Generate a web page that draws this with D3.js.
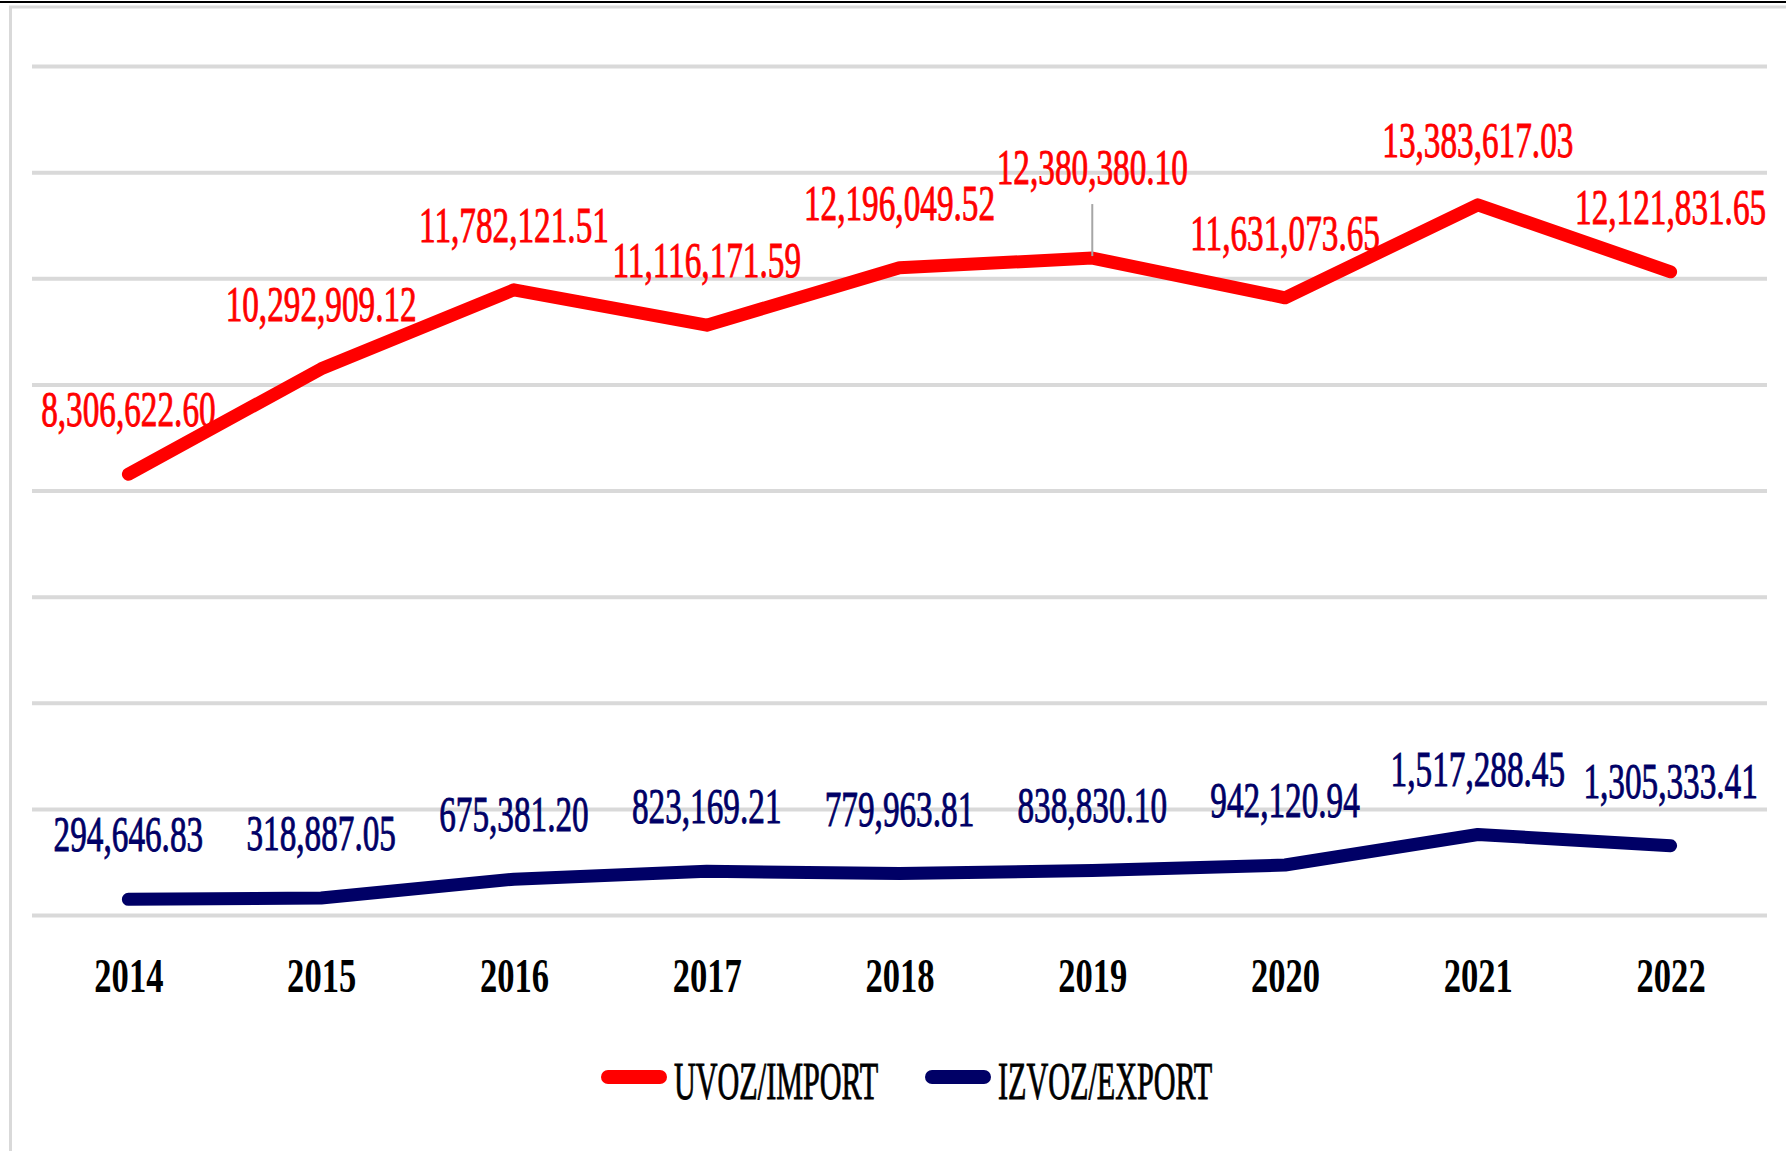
<!DOCTYPE html>
<html>
<head>
<meta charset="utf-8">
<script src="https://cdn.jsdelivr.net/npm/d3@7"></script>
<style>
  html, body { margin: 0; padding: 0; background: #fff; }
  svg { display: block; }
  text { font-family: "Liberation Serif", "DejaVu Serif", serif; }
</style>
</head>
<body>
<script>
const years = ["2014", "2015", "2016", "2017", "2018", "2019", "2020", "2021", "2022"];
const importValues = [8306622.60, 10292909.12, 11782121.51, 11116171.59, 12196049.52, 12380380.10, 11631073.65, 13383617.03, 12121831.65];
const exportValues = [294646.83, 318887.05, 675381.20, 823169.21, 779963.81, 838830.10, 942120.94, 1517288.45, 1305333.41];
const yTickValues = [0, 2000000, 4000000, 6000000, 8000000, 10000000, 12000000, 14000000, 16000000];
const seriesNames = ["UVOZ/IMPORT", "IZVOZ/EXPORT"];
const seriesColors = ["#ff0000", "#000066"];

(function () {
const W = 1786, H = 1151;
const svg = d3.select("body").append("svg").attr("width", W).attr("height", H);

// frame
svg.append("line").attr("x1", 0).attr("x2", W).attr("y1", 2).attr("y2", 2)
  .attr("stroke", "#000").attr("stroke-width", 2);
svg.append("line").attr("x1", 9).attr("x2", W).attr("y1", 7).attr("y2", 7)
  .attr("stroke", "#d9d9d9").attr("stroke-width", 3);
svg.append("line").attr("x1", 10.5).attr("x2", 10.5).attr("y1", 6).attr("y2", H)
  .attr("stroke", "#d9d9d9").attr("stroke-width", 3);

const pLeft = 32, pRight = 1767, pTop = 66, pBottom = 915;
const x = d3.scalePoint().domain(years).range([pLeft, pRight]).padding(0.5);
const y = d3.scaleLinear().domain([0, 16000000]).range([pBottom, pTop]);

// gridlines
const grid = svg.append("g").attr("transform", `translate(${pLeft},0)`)
  .call(d3.axisLeft(y).tickValues(yTickValues).tickSize(-(pRight - pLeft)).tickFormat(""));
grid.select(".domain").remove();
grid.selectAll(".tick line").attr("stroke", "#d9d9d9").attr("stroke-width", 4);

// x axis labels
const xa = svg.append("g").attr("transform", `translate(0,${pBottom})`)
  .call(d3.axisBottom(x).tickSize(0));
xa.select(".domain").remove();
xa.selectAll(".tick text")
  .attr("y", 0).attr("dy", 0)
  .attr("transform", "translate(0,77) scale(0.72,1)")
  .attr("font-size", 48).attr("font-weight", "bold").attr("fill", "#000")
  .attr("font-family", "Liberation Serif");

const fmt = d3.format(",.2f");
const line = d3.line().x((d, i) => x(years[i])).y(d => y(d));

[importValues, exportValues].forEach((vals, s) => {
  svg.append("path").datum(vals)
    .attr("d", line)
    .attr("fill", "none")
    .attr("stroke", seriesColors[s])
    .attr("stroke-width", 13)
    .attr("stroke-linecap", "round")
    .attr("stroke-linejoin", "round");
});

// data labels
[importValues, exportValues].forEach((vals, s) => {
  vals.forEach((v, i) => {
    const px = x(years[i]), py = y(v);
    let lift = 48;
    if (s === 0 && i === 5) {
      lift = 74;
      svg.append("line").attr("x1", px).attr("x2", px)
        .attr("y1", py - 2).attr("y2", py - 54)
        .attr("stroke", "#a6a6a6").attr("stroke-width", 2);
    }
    svg.append("text")
      .attr("transform", `translate(${px},${py - lift}) scale(0.665,1)`)
      .attr("text-anchor", "middle")
      .attr("font-size", 50)
      .attr("fill", seriesColors[s])
      .attr("stroke", seriesColors[s])
      .attr("stroke-width", 0.9)
      .text(fmt(v));
  });
});

// legend
const legendItems = [
  { lx: 601, tx: 674 },
  { lx: 925, tx: 998 }
];
seriesNames.forEach((name, s) => {
  const it = legendItems[s];
  svg.append("line")
    .attr("x1", it.lx + 7).attr("x2", it.lx + 59)
    .attr("y1", 1077).attr("y2", 1077)
    .attr("stroke", seriesColors[s]).attr("stroke-width", 14)
    .attr("stroke-linecap", "round");
  svg.append("text")
    .attr("transform", `translate(${it.tx},1099) scale(0.58,1)`)
    .attr("font-size", 52)
    .attr("fill", "#000")
    .attr("stroke", "#000")
    .attr("stroke-width", 0.9)
    .text(name);
});
})();
</script>
</body>
</html>
